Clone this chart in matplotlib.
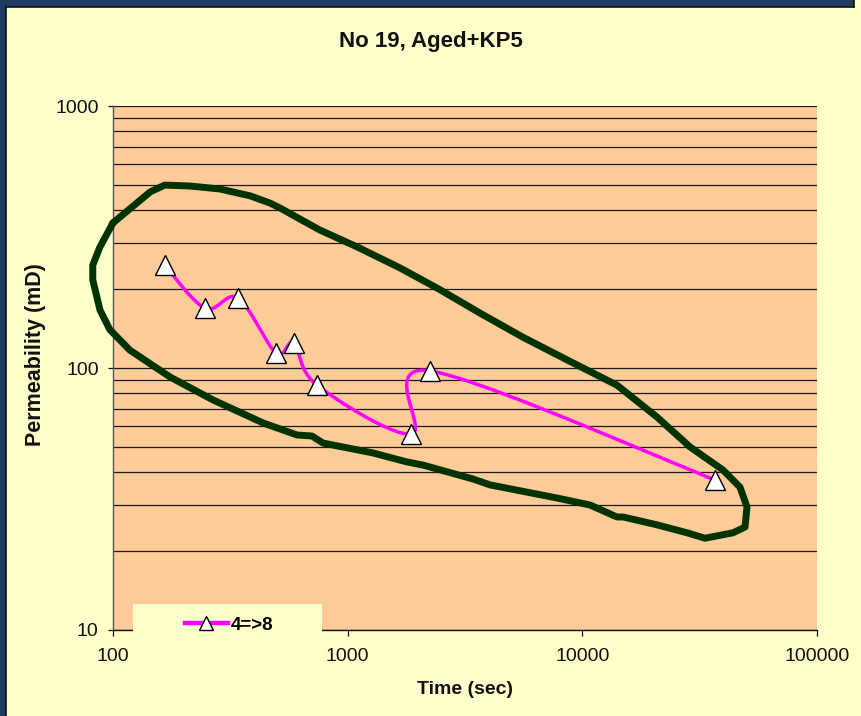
import numpy as np
import matplotlib
matplotlib.use("Agg")
import matplotlib.pyplot as plt
from matplotlib.patches import Rectangle
from matplotlib.lines import Line2D
from matplotlib.ticker import LogLocator, NullFormatter, FixedLocator, FixedFormatter

plt.rcParams['font.family'] = ['Liberation Sans', 'DejaVu Sans']

TITLE = "No 19, Aged+KP5"
X_LABEL = "Time (sec)"
Y_LABEL = "Permeability (mD)"
SERIES_LABEL = "4=>8"

# measured series
time_s = [166, 247, 341, 495, 590, 740, 1862, 2244, 36700]
perm_md = [247, 169, 185, 114, 124.5, 86, 56, 97.5, 37.4]

# hand-drawn envelope around the measurements (time, permeability)
env_time = [100, 118, 144, 166, 213, 286, 384, 467, 515, 762,
            1096, 1671, 2475, 3664, 5587, 8859, 14050, 20800, 28750, 39760,
            46970, 50310, 49340, 43850, 33320, 27930, 20800, 14910, 14050, 10780,
            7800, 4042, 3420, 2094, 1789, 1282, 785, 705, 608, 436,
            267, 175, 118, 97, 88, 82, 82, 88, 100]
env_perm = [358, 405, 470, 499, 495, 482, 454, 426, 408, 336,
            290, 241, 199, 162, 131, 106, 86, 65, 50, 40.8,
            35.1, 29.5, 24.7, 23.5, 22.4, 23.5, 25.2, 27.0, 27.0, 30.0,
            31.9, 35.8, 37.7, 42.6, 43.8, 47.4, 51.7, 55.0, 55.5, 61.7,
            75.5, 92.4, 117, 140, 166.5, 217, 247, 290, 358]

x_ticks = [100, 1000, 10000, 100000]
x_tick_labels = ["100", "1000", "10000", "100000"]
y_ticks = [10, 100, 1000]
y_tick_labels = ["10", "100", "1000"]

W, H = 861, 716
BG_YELLOW = "#FFFFCC"
PLOT_PEACH = "#FFCC99"
FRAME_BLUE = "#1F3B60"
ENVELOPE_GREEN = "#003300"
SERIES_MAGENTA = "#FF00FF"

fig = plt.figure(figsize=(W / 100, H / 100), dpi=100, facecolor=BG_YELLOW)


def px_rect(x0, y0, x1, y1, **kw):
    """Rectangle given in figure pixels measured from the top-left corner."""
    r = Rectangle((x0 / W, 1 - y1 / H), (x1 - x0) / W, (y1 - y0) / H,
                  transform=fig.transFigure, **kw)
    fig.patches.append(r)
    return r


# dark outer frame along the top and left edges
px_rect(0, 0, 6, H, facecolor=FRAME_BLUE, edgecolor="none", zorder=0)
px_rect(0, 0, 854, 7, facecolor=FRAME_BLUE, edgecolor="none", zorder=0)
fig.lines.append(Line2D([6 / W, 6 / W], [0, 1 - 7 / H], transform=fig.transFigure,
                        color="#111111", lw=1.2))
fig.lines.append(Line2D([6 / W, 854 / W], [1 - 7 / H, 1 - 7 / H], transform=fig.transFigure,
                        color="#111111", lw=1.2))
fig.lines.append(Line2D([854 / W, 854 / W], [1 - 7 / H, 1], transform=fig.transFigure,
                        color="#111111", lw=1.2))

ax = fig.add_axes([113 / W, 1 - 630 / H, (817 - 113) / W, (630 - 106) / H])
ax.set_facecolor(PLOT_PEACH)
ax.set_xscale("log")
ax.set_yscale("log")
ax.set_xlim(100, 100000)
ax.set_ylim(10, 1000)

# horizontal gridlines at every decade subdivision
ax.yaxis.set_major_locator(FixedLocator(y_ticks))
ax.yaxis.set_major_formatter(FixedFormatter(y_tick_labels))
ax.yaxis.set_minor_locator(LogLocator(base=10, subs=np.arange(2, 10)))
ax.yaxis.set_minor_formatter(NullFormatter())
ax.xaxis.set_major_locator(FixedLocator(x_ticks))
ax.xaxis.set_major_formatter(FixedFormatter(x_tick_labels))
ax.xaxis.set_minor_locator(FixedLocator([]))
ax.yaxis.grid(True, which="both", color="#1a1a1a", lw=0.9)
ax.set_axisbelow(True)

ax.tick_params(axis="y", which="major", direction="out", length=3.8, width=0.9,
               pad=6.5, labelsize=14, colors="#111111")
ax.tick_params(axis="y", which="minor", length=0)
ax.tick_params(axis="x", which="major", direction="out", length=4.3, width=0.9,
               pad=8.5, labelsize=14, colors="#111111")

ax.spines["top"].set_visible(False)
ax.spines["right"].set_visible(False)
ax.spines["left"].set_color("#555555")
ax.spines["left"].set_linewidth(1.0)
ax.spines["bottom"].set_color("#111111")
ax.spines["bottom"].set_linewidth(1.0)

# envelope outline (extends past the left axis)
ax.plot(env_time, env_perm, color=ENVELOPE_GREEN, lw=5, solid_joinstyle="round",
        solid_capstyle="round", clip_on=False, zorder=3)


def smoothed(xs, ys, n=40):
    """Cubic Bezier smoothing of a polyline in screen space."""
    pts = ax.transData.transform(np.column_stack([xs, ys]))
    m = len(pts)
    out = [pts[0]]
    t = np.linspace(0, 1, n)[1:, None]
    for i in range(m - 1):
        p0, p1 = pts[i], pts[i + 1]
        prev_p = pts[i - 1] if i > 0 else pts[i]
        next_p = pts[i + 2] if i + 2 < m else pts[i + 1]
        c1 = p0 + (p1 - prev_p) / 6.0
        c2 = p1 - (next_p - p0) / 6.0
        seg = ((1 - t) ** 3) * p0 + 3 * ((1 - t) ** 2) * t * c1 + 3 * (1 - t) * t ** 2 * c2 + t ** 3 * p1
        out.extend(seg)
    out = np.array(out)
    data = ax.transData.inverted().transform(out)
    return data[:, 0], data[:, 1]


sx, sy = smoothed(time_s, perm_md)
ax.plot(sx, sy, color=SERIES_MAGENTA, lw=2.5, solid_capstyle="round", zorder=4)
ax.plot(time_s, perm_md, linestyle="none", marker="^", markersize=14,
        markerfacecolor="white", markeredgecolor="black", markeredgewidth=1.0, zorder=5)

# titles and axis labels
fig.text(431 / W, 1 - 42 / H, TITLE, ha="center", va="center",
         fontsize=16, fontweight="bold", color="#111111")
fig.text(465 / W, 1 - 690 / H, X_LABEL, ha="center", va="center",
         fontsize=14, fontweight="bold", color="#111111")
fig.text(36 / W, 1 - 355 / H, Y_LABEL, ha="center", va="center", rotation=90,
         fontsize=15.5, fontweight="bold", color="#111111")

# legend panel sitting over the bottom axis line
px_rect(133, 604, 322, 637, facecolor=BG_YELLOW, edgecolor="none", zorder=5)
handle = Line2D([], [], color=SERIES_MAGENTA, lw=3.2, marker="^", markersize=10,
                markerfacecolor="white", markeredgecolor="black", markeredgewidth=1.0)
leg = fig.legend([handle], [SERIES_LABEL], loc="center",
                 bbox_to_anchor=(229 / W, 1 - 625 / H), frameon=False,
                 handlelength=2.3, handletextpad=0.15, borderpad=0.0,
                 prop={"weight": "bold", "size": 13.5})
leg.set_zorder(6)

fig.savefig("out.png", dpi=100, facecolor=fig.get_facecolor())
